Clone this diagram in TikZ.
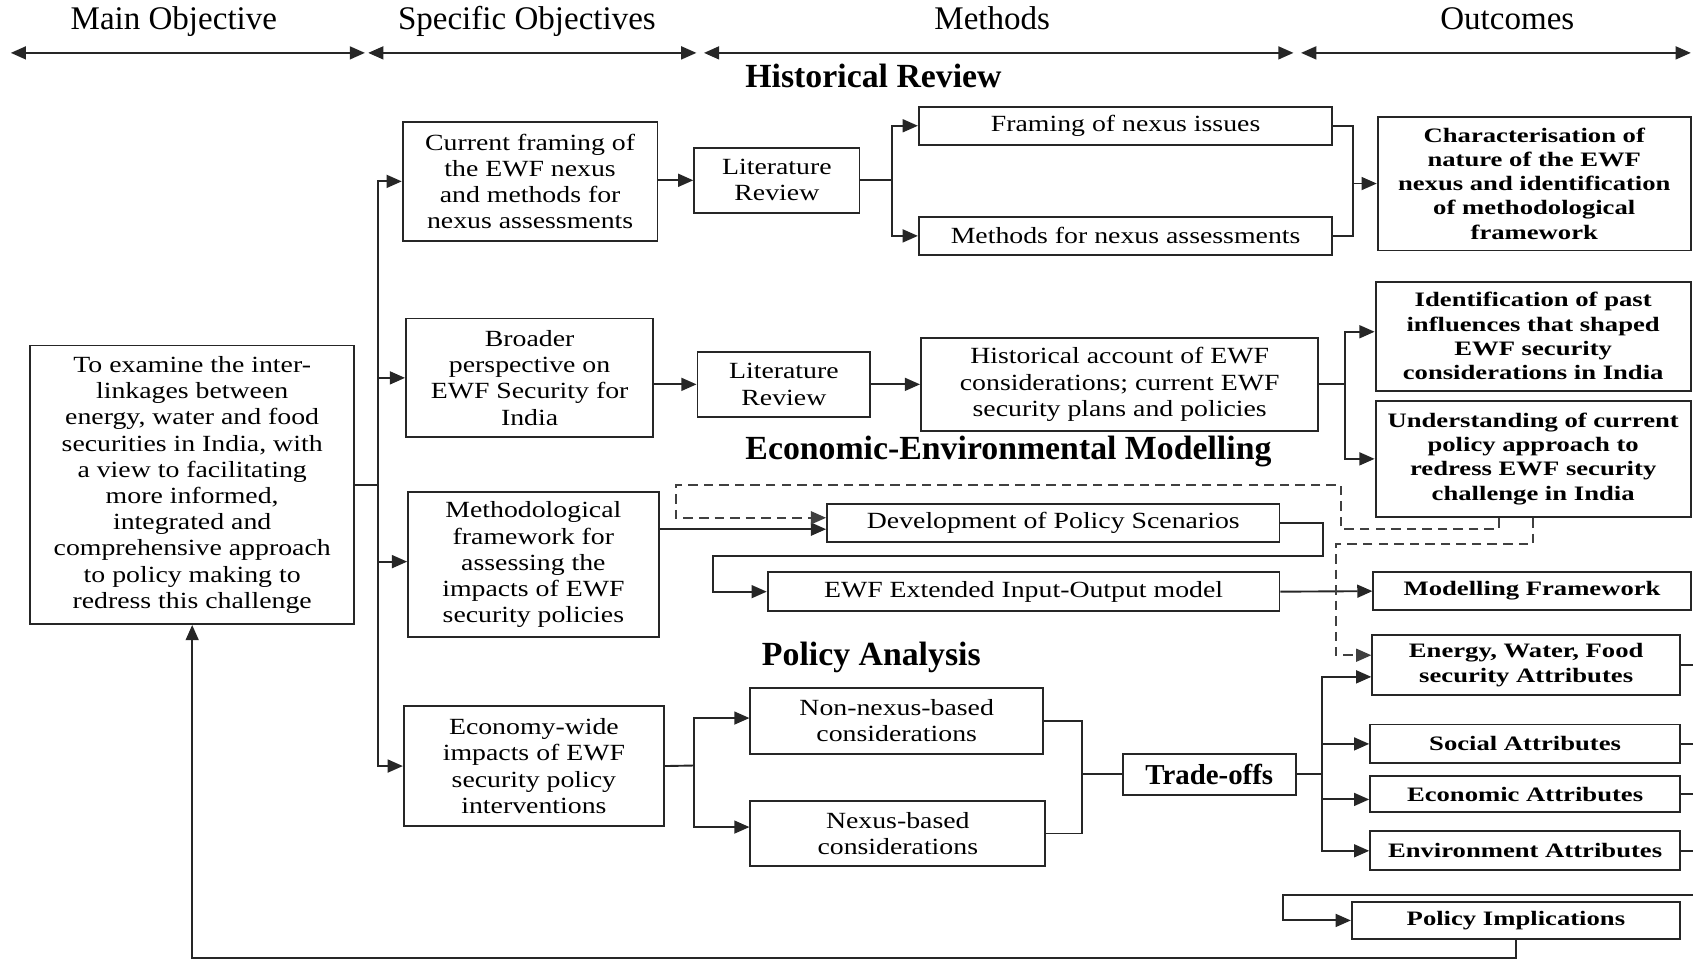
\documentclass[tikz,border=0pt]{standalone}
\usepackage{fontspec}
\setmainfont[FakeStretch=1.2]{Liberation Serif}
\newfontfamily\plainserif{Liberation Serif}
\newfontfamily\wideserif[FakeStretch=1.3]{Liberation Serif}
\usetikzlibrary{arrows.meta,calc}

\begin{document}
\begin{tikzpicture}[x=0.01cm,y=-0.01cm,
  line width=0.5pt, draw=black!85,
  box/.style={draw=black!85, inner sep=0pt, align=center,
    font=\fontsize{6.1}{6.9}\selectfont},
  obox/.style={box, font=\wideserif\bfseries\fontsize{5.4}{6.4}\selectfont},
  wh/.style 2 args={minimum width={#1*0.01cm}, minimum height={#2*0.01cm}},
  arr/.style={-{Triangle[length=4pt,width=3.4pt]}},
  darr/.style={{Triangle[length=4pt,width=3.4pt]}-{Triangle[length=4pt,width=3.4pt]}},
  dsh/.style={dash pattern=on 2.5pt off 1.6pt, draw=black!75},
  head/.style={anchor=base, inner sep=0pt, font=\plainserif\fontsize{8.7}{10}\selectfont},
  sect/.style={font=\plainserif\bfseries\fontsize{8.9}{10}\selectfont},
]
\useasboundingbox (0,0) rectangle (1568,889);

% column headings and their span arrows
\node[head] (hmain) at (161,27) {Main Objective};
\node[head] (hspec) at (488,27) {Specific Objectives};
\node[head] (hmeth) at (919,27) {Methods};
\node[head] (hout)  at (1396,27) {Outcomes};
\coordinate (a0) at (10,49);   \coordinate (a1) at (338,49);
\coordinate (a2) at (341,49);  \coordinate (a3) at (645,49);
\coordinate (a4) at (652,49);  \coordinate (a5) at (1198,49);
\coordinate (a6) at (1205,49); \coordinate (a7) at (1566,49);
\draw[darr] (a0) -- (a1);
\draw[darr] (a2) -- (a3);
\draw[darr] (a4) -- (a5);
\draw[darr] (a6) -- (a7);

% section titles
\node[sect] (sHist) at (809,70)  {Historical Review};
\node[sect] (sEco)  at (934,418) {Economic-Environmental Modelling};
\node[sect] (sPol)  at (807,609) {Policy Analysis};

% main objective
\node[box, wh={300}{258}] (main) at (178,449) {To examine the inter-\\linkages between\\energy, water and food\\securities in India, with\\a view to facilitating\\more informed,\\integrated and\\comprehensive approach\\to policy making to\\redress this challenge};

% specific objectives
\node[box, wh={236}{110}] (so1) at (491,168) {Current framing of\\the EWF nexus\\and methods for\\nexus assessments};
\node[box, wh={229}{110}] (so2) at (490.5,350) {Broader\\perspective on\\EWF Security for\\India};
\node[box, wh={232}{134}] (so3) at (494,523) {Methodological\\framework for\\assessing the\\impacts of EWF\\security policies};
\node[box, wh={241}{111}] (so4) at (494.5,709.5) {Economy-wide\\impacts of EWF\\security policy\\interventions};

% methods
\node[box, wh={153}{60}] (lr1) at (719.5,167) {Literature\\Review};
\node[box, wh={383}{35}] (fram) at (1042.5,116.5) {Framing of nexus issues};
\node[box, wh={383}{35}] (meth) at (1042.5,218.5) {Methods for nexus assessments};
\node[box, wh={160}{60}] (lr2) at (726,356) {Literature\\Review};
\node[box, wh={368}{86}] (hist) at (1037,356) {Historical account of EWF\\considerations; current EWF\\security plans and policies};
\node[box, wh={419}{35}] (dev) at (975.5,484.5) {Development of Policy Scenarios};
\node[box, wh={474}{36}] (io) at (948,548) {EWF Extended Input-Output model};
\node[box, wh={271}{61}] (nn) at (830.5,667.5) {Non-nexus-based\\considerations};
\node[box, wh={273}{60}] (nx) at (831.5,772) {Nexus-based\\considerations};
\node[box, wh={160}{38}, font=\plainserif\bfseries\fontsize{7.6}{9}\selectfont] (trade) at (1120,717) {Trade-offs};

% outcomes
\node[obox, wh={290}{124}] (o1) at (1421,170) {Characterisation of\\nature of the EWF\\nexus and identification\\of methodological\\framework};
\node[obox, wh={292}{101}] (o2) at (1420,311.5) {Identification of past\\influences that shaped\\EWF security\\considerations in India};
\node[obox, wh={292}{108}] (o3) at (1420,425) {Understanding of current\\policy approach to\\redress EWF security\\challenge in India};
\node[obox, wh={294}{35}] (mf) at (1419,547.5) {Modelling Framework};
\node[obox, wh={285}{56}] (ewfa) at (1413.5,616) {Energy, Water, Food\\security Attributes};
\node[obox, wh={287}{36}] (soc) at (1412.5,689) {Social Attributes};
\node[obox, wh={287}{33}] (eco) at (1412.5,735.5) {Economic Attributes};
\node[obox, wh={287}{36}] (env) at (1412.5,788) {Environment Attributes};
\node[obox, wh={304}{35}] (pi) at (1404,852.5) {Policy Implications};

% trunk from the main objective to the specific objectives
\coordinate (tk) at (350,449);
\draw (main.east) -- (tk);
\draw[arr] (tk) |- (so1.west);
\draw[arr] (tk) |- (so2.west);
\draw[arr] (tk) |- ([yshift=0.8pt]so3.west);
\draw[arr] (tk) |- (so4.west);

% historical review branch
\draw[arr] (so1.east |- lr1.west) -- (lr1.west);
\coordinate (f1) at (826,167);
\draw (lr1.east) -- (f1);
\draw[arr] (f1) |- (fram.west);
\draw[arr] (f1) |- (meth.west);
\coordinate (f2) at (1253,170);
\draw (fram.east) -| (f2);
\draw (meth.east) -| (f2);
\draw[arr] (f2) -- (o1.west |- f2);

\draw[arr] (so2.east |- lr2.west) -- (lr2.west);
\draw[arr] (lr2.east) -- (hist.west);
\coordinate (f3) at (1246,356);
\draw (hist.east) -- (f3);
\draw[arr] (f3) |- ([yshift=1.2pt]o2.west);
\draw[arr] (f3) |- (o3.west);

% modelling branch
\coordinate (dv) at ([yshift=-1.6pt]dev.west);
\draw[arr] (so3.east |- dv) -- (dv);
\coordinate (f4) at (1225,515);
\coordinate (f5) at (660,515);
\draw[arr] (dev.east) -| (f4) -- (f5) |- (io.west);
\draw[arr] (io.east) -- (mf.west);

% dashed feedback from the policy understanding
\coordinate (d1) at (1242,490);
\coordinate (d2) at (626,449);
\draw[dsh, arr] ([xshift=-0.32cm]o3.south) |- (d1) |- (d2) |- ([yshift=1.4pt]dev.west);
\coordinate (d3) at (1237,504);
\draw[dsh, arr] (o3.south) |- (d3) |- ([yshift=2.6pt]ewfa.west);

% policy analysis branch
\coordinate (f6) at (643,709);
\draw (so4.east) -- (f6);
\draw[arr] (f6) |- ([yshift=0.7pt]nn.west);
\draw[arr] (f6) |- ([yshift=1.7pt]nx.west);
\coordinate (f7) at (1002,717);
\draw (nn.east) -| (f7);
\draw (nx.east) -| (f7);
\draw (f7) -- (trade.west);
\coordinate (f8) at (1224,717);
\draw (trade.east) -- (f8);
\draw[arr] (f8) |- ([yshift=-3.1pt]ewfa.west);
\draw[arr] (f8) |- (soc.west);
\draw[arr] (f8) |- ([yshift=-1.4pt]eco.west);
\draw[arr] (f8) |- (env.west);

% attribute links running off to the right
\coordinate (rx) at (1568,0);
\draw (ewfa.east) -- (ewfa.east -| rx);
\draw (soc.east) -- (soc.east -| rx);
\draw (eco.east) -- (eco.east -| rx);
\draw (env.east) -- (env.east -| rx);

% policy implications and the loop back to the main objective
\coordinate (p0) at (1568,829);
\coordinate (p1) at (1188,829);
\draw[arr] (p0) -- (p1) |- (pi.west);
\coordinate (p2) at (1404,887);
\draw[arr] (pi.south -| p2) -- (p2) -| (main.south);
\end{tikzpicture}
\end{document}
